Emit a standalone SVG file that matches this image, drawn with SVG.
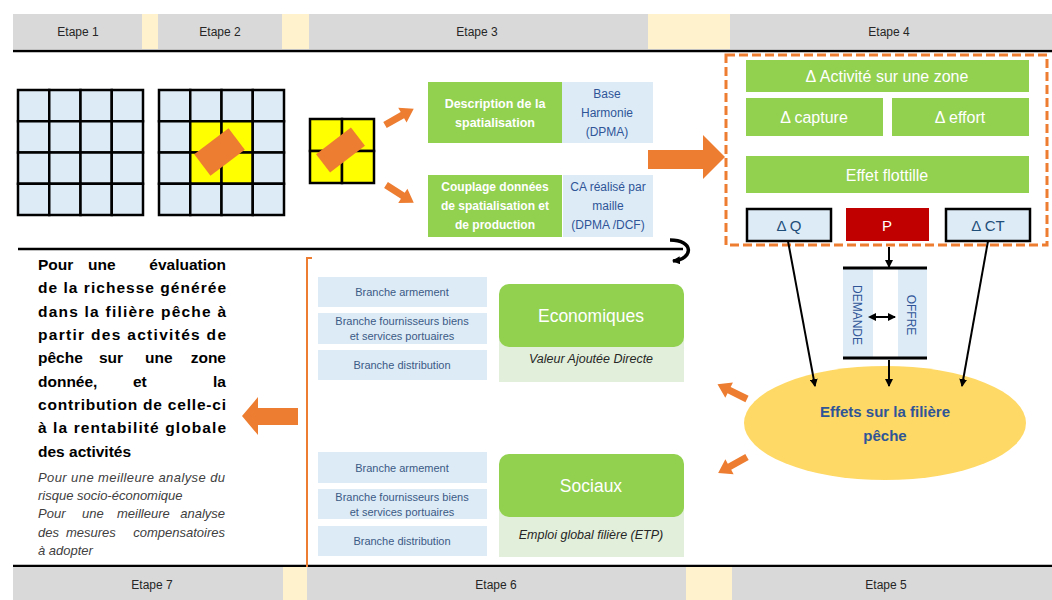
<svg xmlns="http://www.w3.org/2000/svg" width="1052" height="600" viewBox="0 0 1052 600">
<defs>
<style>
text{font-family:"Liberation Sans",Arial,sans-serif}
.band{fill:#D9D9D9}
.cream{fill:#FFF2CC}
.step{font-size:12px;fill:#262626;text-anchor:middle}
.cell{fill:#DDEBF7;stroke:#000;stroke-width:2.5}
.ycell{fill:#FFFF00;stroke:#000;stroke-width:2.5}
.og{fill:#ED7D31}
.green{fill:#92D050}
.lblue{fill:#DDEBF7}
.lgreen{fill:#E2EFDA}
.wt{fill:#fff;text-anchor:middle}
.bt{fill:#2F5597;text-anchor:middle;font-size:12px}
.br{fill:#3B5A85;text-anchor:middle;font-size:11px}
.main{font-size:15.5px;font-weight:bold;fill:#000}
.it{font-size:13px;font-style:italic;fill:#404040}
.blk{stroke:#000;stroke-width:2;fill:none}
</style>
<marker id="ah" markerWidth="8" markerHeight="8" refX="7" refY="4" orient="auto" markerUnits="userSpaceOnUse">
<path d="M0,0 L8,4 L0,8 Z" fill="#000"/>
</marker>
<marker id="ahs" markerWidth="8" markerHeight="8" refX="1" refY="4" orient="auto-start-reverse" markerUnits="userSpaceOnUse">
<path d="M0,0 L8,4 L0,8 Z" fill="#000"/>
</marker>
<polygon id="sa" points="0,-3.5 20,-3.5 20,-8.5 33,0 20,8.5 20,3.5 0,3.5" fill="#ED7D31"/>
</defs>
<rect width="1052" height="600" fill="#fff"/>

<g id="top-band">
<rect class="band" x="13" y="14" width="1039" height="35"/>
<rect class="cream" x="142" y="14" width="16" height="35"/>
<rect class="cream" x="282" y="14" width="27" height="35"/>
<rect class="cream" x="648" y="14" width="82" height="35"/>
<text class="step" x="78" y="36">Etape 1</text>
<text class="step" x="220" y="36">Etape 2</text>
<text class="step" x="477" y="36">Etape 3</text>
<text class="step" x="889" y="36">Etape 4</text>
<line x1="13" y1="51" x2="1052" y2="51" stroke="#000" stroke-width="2.5"/>
</g>

<g id="bottom-band">
<line x1="13" y1="566" x2="1052" y2="566" stroke="#000" stroke-width="2.5"/>
<rect class="band" x="13" y="567" width="1039" height="33"/>
<rect class="cream" x="283" y="567" width="24" height="33"/>
<rect class="cream" x="686" y="567" width="46" height="33"/>
<text class="step" x="152" y="589">Etape 7</text>
<text class="step" x="496" y="589">Etape 6</text>
<text class="step" x="886" y="589">Etape 5</text>
</g>

<g id="grid1">
<rect class="cell" x="18" y="90" width="31.25" height="31.25"/><rect class="cell" x="49.25" y="90" width="31.25" height="31.25"/><rect class="cell" x="80.5" y="90" width="31.25" height="31.25"/><rect class="cell" x="111.75" y="90" width="31.25" height="31.25"/>
<rect class="cell" x="18" y="121.25" width="31.25" height="31.25"/><rect class="cell" x="49.25" y="121.25" width="31.25" height="31.25"/><rect class="cell" x="80.5" y="121.25" width="31.25" height="31.25"/><rect class="cell" x="111.75" y="121.25" width="31.25" height="31.25"/>
<rect class="cell" x="18" y="152.5" width="31.25" height="31.25"/><rect class="cell" x="49.25" y="152.5" width="31.25" height="31.25"/><rect class="cell" x="80.5" y="152.5" width="31.25" height="31.25"/><rect class="cell" x="111.75" y="152.5" width="31.25" height="31.25"/>
<rect class="cell" x="18" y="183.75" width="31.25" height="31.25"/><rect class="cell" x="49.25" y="183.75" width="31.25" height="31.25"/><rect class="cell" x="80.5" y="183.75" width="31.25" height="31.25"/><rect class="cell" x="111.75" y="183.75" width="31.25" height="31.25"/>
</g>

<g id="grid2">
<rect class="cell" x="159" y="90" width="31.25" height="31.25"/><rect class="cell" x="190.25" y="90" width="31.25" height="31.25"/><rect class="cell" x="221.5" y="90" width="31.25" height="31.25"/><rect class="cell" x="252.75" y="90" width="31.25" height="31.25"/>
<rect class="cell" x="159" y="121.25" width="31.25" height="31.25"/><rect class="ycell" x="190.25" y="121.25" width="31.25" height="31.25"/><rect class="ycell" x="221.5" y="121.25" width="31.25" height="31.25"/><rect class="cell" x="252.75" y="121.25" width="31.25" height="31.25"/>
<rect class="cell" x="159" y="152.5" width="31.25" height="31.25"/><rect class="ycell" x="190.25" y="152.5" width="31.25" height="31.25"/><rect class="ycell" x="221.5" y="152.5" width="31.25" height="31.25"/><rect class="cell" x="252.75" y="152.5" width="31.25" height="31.25"/>
<rect class="cell" x="159" y="183.75" width="31.25" height="31.25"/><rect class="cell" x="190.25" y="183.75" width="31.25" height="31.25"/><rect class="cell" x="221.5" y="183.75" width="31.25" height="31.25"/><rect class="cell" x="252.75" y="183.75" width="31.25" height="31.25"/>
<rect class="og" x="-21.5" y="-13.5" width="43" height="27" transform="translate(219.5 152) rotate(-37)"/>
</g>

<g id="grid3">
<rect class="ycell" x="310" y="119" width="32" height="32"/><rect class="ycell" x="342" y="119" width="32" height="32"/>
<rect class="ycell" x="310" y="151" width="32" height="32"/><rect class="ycell" x="342" y="151" width="32" height="32"/>
<rect class="og" x="-22" y="-11.5" width="44" height="23" transform="translate(340.5 150) rotate(-37.5)"/>
</g>

<g id="description">
<rect class="green" x="428" y="82" width="134" height="61"/>
<text class="wt" font-size="12.5" font-weight="bold"><tspan x="495" y="108">Description de la</tspan><tspan x="495" y="127">spatialisation</tspan></text>
</g>
<g id="base-harmonie">
<rect class="lblue" x="562" y="82" width="91" height="61"/>
<text class="bt"><tspan x="607" y="98">Base</tspan><tspan x="607" y="117">Harmonie</tspan><tspan x="607" y="136">(DPMA)</tspan></text>
</g>
<g id="couplage">
<rect class="green" x="428" y="175" width="134" height="62"/>
<text class="wt" font-size="12" font-weight="bold"><tspan x="495" y="191">Couplage données</tspan><tspan x="495" y="210">de spatialisation et</tspan><tspan x="495" y="229">de production</tspan></text>
</g>
<g id="ca-maille">
<rect class="lblue" x="563" y="175" width="90" height="62"/>
<text class="bt"><tspan x="608" y="191">CA réalisé par</tspan><tspan x="608" y="210">maille</tspan><tspan x="608" y="229">(DPMA /DCF)</tspan></text>
</g>

<g id="etape4-box">
<rect x="726" y="55" width="321" height="190" fill="none" stroke="#ED7D31" stroke-width="3" stroke-dasharray="9 4"/>
</g>
<g id="activite">
<rect class="green" x="746" y="60" width="283" height="32"/>
<text class="wt" x="887" y="82" font-size="16">Δ Activité sur une zone</text>
</g>
<g id="capture">
<rect class="green" x="746" y="98" width="137" height="38"/>
<text class="wt" x="814" y="123" font-size="16">Δ capture</text>
</g>
<g id="effort">
<rect class="green" x="892" y="98" width="137" height="38"/>
<text class="wt" x="960" y="123" font-size="16">Δ effort</text>
</g>
<g id="flottille">
<rect class="green" x="746" y="156" width="283" height="37"/>
<text class="wt" x="887" y="181" font-size="16">Effet flottille</text>
</g>
<g id="dq">
<rect x="747" y="209" width="84" height="32" fill="#DDEBF7" stroke="#000" stroke-width="2.5"/>
<text x="789" y="231" font-size="15" fill="#1F4E79" text-anchor="middle">Δ Q</text>
</g>
<g id="p">
<rect x="846" y="208" width="83" height="33" fill="#C00000"/>
<text class="wt" x="887" y="231" font-size="15">P</text>
</g>
<g id="dct">
<rect x="946" y="209" width="84" height="32" fill="#DDEBF7" stroke="#000" stroke-width="2.5"/>
<text x="988" y="231" font-size="15" fill="#1F4E79" text-anchor="middle">Δ CT</text>
</g>

<g id="marche">
<rect class="lblue" x="843" y="268" width="30" height="90"/>
<rect class="lblue" x="898" y="268" width="29" height="90"/>
<line x1="843" y1="268" x2="927" y2="268" stroke="#000" stroke-width="3"/>
<line x1="843" y1="358" x2="927" y2="358" stroke="#000" stroke-width="3"/>
<text transform="translate(853 315) rotate(90)" text-anchor="middle" font-size="12" fill="#2F5597">DEMANDE</text>
<text transform="translate(907 315) rotate(90)" text-anchor="middle" font-size="12" fill="#2F5597">OFFRE</text>
</g>

<g id="effets">
<ellipse cx="885" cy="423" rx="141" ry="57" fill="#FFD966"/>
<text x="885" y="417" font-size="15" font-weight="bold" fill="#2F5597" text-anchor="middle">Effets sur la filière</text>
<text x="885" y="441" font-size="15" font-weight="bold" fill="#2F5597" text-anchor="middle">pêche</text>
</g>

<g id="separator">
<line x1="18" y1="249" x2="683" y2="249" stroke="#000" stroke-width="2.5"/>
<line x1="307" y1="257" x2="307" y2="567" stroke="#ED7D31" stroke-width="2"/>
<line x1="306" y1="258" x2="312" y2="258" stroke="#ED7D31" stroke-width="2"/>
</g>

<g id="branches-eco">
<rect class="lblue" x="318" y="277" width="169" height="30"/>
<text class="br" x="402" y="296">Branche armement</text>
<rect class="lblue" x="318" y="313" width="169" height="31"/>
<text class="br"><tspan x="402" y="325">Branche fournisseurs biens</tspan><tspan x="402" y="340">et services portuaires</tspan></text>
<rect class="lblue" x="318" y="350" width="169" height="30"/>
<text class="br" x="402" y="369">Branche distribution</text>
</g>
<g id="economiques">
<rect class="lgreen" x="499" y="320" width="185" height="62"/>
<rect class="green" x="499" y="284" width="185" height="63" rx="10"/>
<text class="wt" x="591" y="322" font-size="17.5">Economiques</text>
<text x="591" y="363" font-size="12.5" font-style="italic" fill="#262626" text-anchor="middle">Valeur Ajoutée Directe</text>
</g>
<g id="branches-soc">
<rect class="lblue" x="318" y="452" width="169" height="31"/>
<text class="br" x="402" y="472">Branche armement</text>
<rect class="lblue" x="318" y="489" width="169" height="30"/>
<text class="br"><tspan x="402" y="501">Branche fournisseurs biens</tspan><tspan x="402" y="516">et services portuaires</tspan></text>
<rect class="lblue" x="318" y="526" width="169" height="30"/>
<text class="br" x="402" y="545">Branche distribution</text>
</g>
<g id="sociaux">
<rect class="lgreen" x="499" y="490" width="185" height="67"/>
<rect class="green" x="499" y="454" width="185" height="63" rx="10"/>
<text class="wt" x="591" y="492" font-size="17.5">Sociaux</text>
<text x="591" y="539" font-size="12.5" font-style="italic" fill="#262626" text-anchor="middle">Emploi global filière (ETP)</text>
</g>

<g id="conclusion">
<text class="main" y="270"><tspan x="38">Pour</tspan><tspan x="88">une</tspan><tspan x="226" text-anchor="end">évaluation</tspan></text>
<text class="main" x="38" y="293" textLength="188" lengthAdjust="spacing">de la richesse générée</text>
<text class="main" x="38" y="317" textLength="188" lengthAdjust="spacing">dans la filière pêche à</text>
<text class="main" x="38" y="340" textLength="188" lengthAdjust="spacing">partir des activités de</text>
<text class="main" y="363"><tspan x="38">pêche</tspan><tspan x="99">sur</tspan><tspan x="145">une</tspan><tspan x="226" text-anchor="end">zone</tspan></text>
<text class="main" y="387"><tspan x="38">donnée,</tspan><tspan x="133">et</tspan><tspan x="226" text-anchor="end">la</tspan></text>
<text class="main" x="38" y="410" textLength="188" lengthAdjust="spacing">contribution de celle-ci</text>
<text class="main" x="38" y="433" textLength="188" lengthAdjust="spacing">à la rentabilité globale</text>
<text class="main" x="38" y="457">des activités</text>
<text class="it" x="38" y="482" textLength="187" lengthAdjust="spacing">Pour une meilleure analyse du</text>
<text class="it" x="38" y="500">risque socio-économique</text>
<text class="it" y="518"><tspan x="38">Pour</tspan><tspan x="82">une</tspan><tspan x="117">meilleure</tspan><tspan x="225" text-anchor="end">analyse</tspan></text>
<text class="it" y="537"><tspan x="38">des</tspan><tspan x="66">mesures</tspan><tspan x="225" text-anchor="end">compensatoires</tspan></text>
<text class="it" x="38" y="555">à adopter</text>
</g>

<g id="connectors">
<use href="#sa" transform="translate(385 125) rotate(-29.5)"/>
<use href="#sa" transform="translate(386 185) rotate(32.7)"/>
<use href="#sa" transform="translate(747 399) rotate(206.6)"/>
<use href="#sa" transform="translate(747 457) rotate(151)"/>
<polygon class="og" points="648,150 703,150 703,135 725,157 703,179 703,169 648,169"/>
<polygon class="og" points="298,408 258,408 258,397 242,416 258,435 258,425 298,425"/>
<line x1="788" y1="241" x2="815" y2="386" class="blk" marker-end="url(#ah)"/>
<line x1="988" y1="241" x2="962" y2="386" class="blk" marker-end="url(#ah)"/>
<line x1="889" y1="247" x2="889" y2="267" class="blk" marker-end="url(#ah)"/>
<line x1="889" y1="360" x2="889" y2="386" class="blk" marker-end="url(#ah)"/>
<line x1="875" y1="317" x2="895" y2="317" class="blk" marker-start="url(#ahs)" marker-end="url(#ah)"/>
<path d="M670 240 C 694 240, 694 259, 673 261" fill="none" stroke="#000" stroke-width="3.5" marker-end="url(#ah)"/>
</g>
</svg>
